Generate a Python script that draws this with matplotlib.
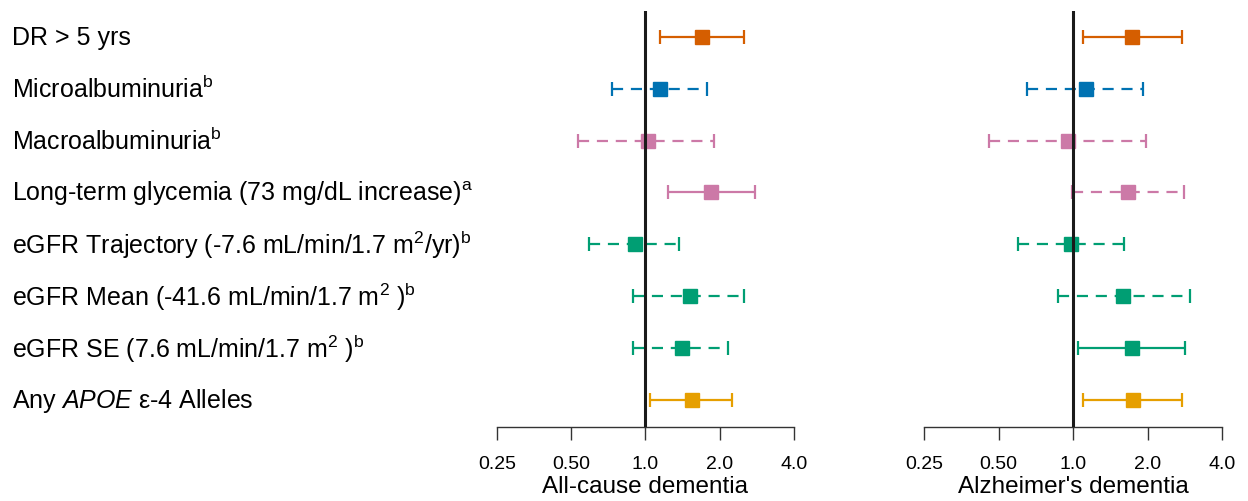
import numpy as np
import matplotlib
matplotlib.use("Agg")
import matplotlib.pyplot as plt
from matplotlib.transforms import blended_transform_factory

plt.rcParams['font.family'] = 'Liberation Sans'
plt.rcParams['mathtext.fontset'] = 'custom'
plt.rcParams['mathtext.rm'] = 'Liberation Sans'
plt.rcParams['mathtext.it'] = 'Liberation Sans:italic'

# Datos (razon de riesgo e IC 95%)
etiquetas = [
    'DR > 5 yrs',
    'Microalbuminuria$^\\mathrm{b}$',
    'Macroalbuminuria$^\\mathrm{b}$',
    'Long-term glycemia (73 mg/dL increase)$^\\mathrm{a}$',
    'eGFR Trajectory (-7.6 mL/min/1.7 m$^\\mathrm{2}$/yr)$^\\mathrm{b}$',
    'eGFR Mean (-41.6 mL/min/1.7 m$^\\mathrm{2}$ )$^\\mathrm{b}$',
    'eGFR SE (7.6 mL/min/1.7 m$^\\mathrm{2}$ )$^\\mathrm{b}$',
    'Any $\\mathit{APOE}$ ε-4 Alleles',
]
colores = ['#D55E00', '#0072B2', '#CC79A7', '#CC79A7',
           '#009E73', '#009E73', '#009E73', '#E69F00']

# All-cause dementia
ac_hr = [1.69, 1.15, 1.02, 1.85, 0.91, 1.51, 1.41, 1.54]
ac_inf = [1.14, 0.735, 0.535, 1.23, 0.593, 0.894, 0.89, 1.04]
ac_sup = [2.50, 1.78, 1.89, 2.79, 1.37, 2.50, 2.17, 2.25]
ac_guion = [False, True, True, False, True, True, True, False]

# Alzheimer's dementia
ad_hr = [1.73, 1.13, 0.955, 1.67, 0.98, 1.59, 1.73, 1.75]
ad_inf = [1.10, 0.65, 0.457, 0.99, 0.60, 0.87, 1.05, 1.10]
ad_sup = [2.76, 1.92, 1.97, 2.81, 1.61, 2.97, 2.84, 2.76]
ad_guion = [False, True, True, True, True, True, False, False]

ticks = [0.25, 0.5, 1.0, 2.0, 4.0]
ticks_txt = ['0.25', '0.50', '1.0', '2.0', '4.0']

filas = np.arange(len(etiquetas), 0, -1)

fig = plt.figure(figsize=(12.48, 5.02), dpi=100)
ax1 = fig.add_axes([0.3982, 0.1474, 0.238, 0.829])
ax2 = fig.add_axes([0.7404, 0.1474, 0.2388, 0.829])


def dibujarPanel(ax, hr, inf, sup, guion, titulo):
    for i in range(len(hr)):
        err = [[hr[i] - inf[i]], [sup[i] - hr[i]]]
        lin, caps, barras = ax.errorbar([hr[i]], [filas[i]], xerr=err, fmt='s',
                                        color=colores[i], ms=10, lw=1.6,
                                        capsize=5, capthick=1.6, clip_on=False)
        if guion[i]:
            barras[0].set_linestyle((0, (5, 3.5)))
    ax.axvline(1.0, color='#1a1a1a', lw=2.2, zorder=5)
    ax.set_xscale('log', base=2)
    ax.set_xlim(0.25, 4.0)
    ax.set_ylim(0.48, 8.5)
    ax.set_xticks(ticks)
    ax.set_xticklabels(ticks_txt)
    ax.minorticks_off()
    ax.set_yticks([])
    for s in ['top', 'right', 'left']:
        ax.spines[s].set_visible(False)
    ax.spines['bottom'].set_color('#333333')
    ax.spines['bottom'].set_linewidth(1.0)
    ax.tick_params(axis='x', length=9, width=1.0, color='#333333',
                   labelsize=14, pad=11)
    ax.set_xlabel(titulo, fontsize=17.5, labelpad=2)


dibujarPanel(ax1, ac_hr, ac_inf, ac_sup, ac_guion, 'All-cause dementia')
dibujarPanel(ax2, ad_hr, ad_inf, ad_sup, ad_guion, "Alzheimer's dementia")

trans = blended_transform_factory(fig.transFigure, ax1.transData)
for i, txt in enumerate(etiquetas):
    fig.text(0.0096, filas[i], txt, transform=trans, fontsize=18,
             va='center', ha='left')

plt.savefig('out.png', dpi=100)
